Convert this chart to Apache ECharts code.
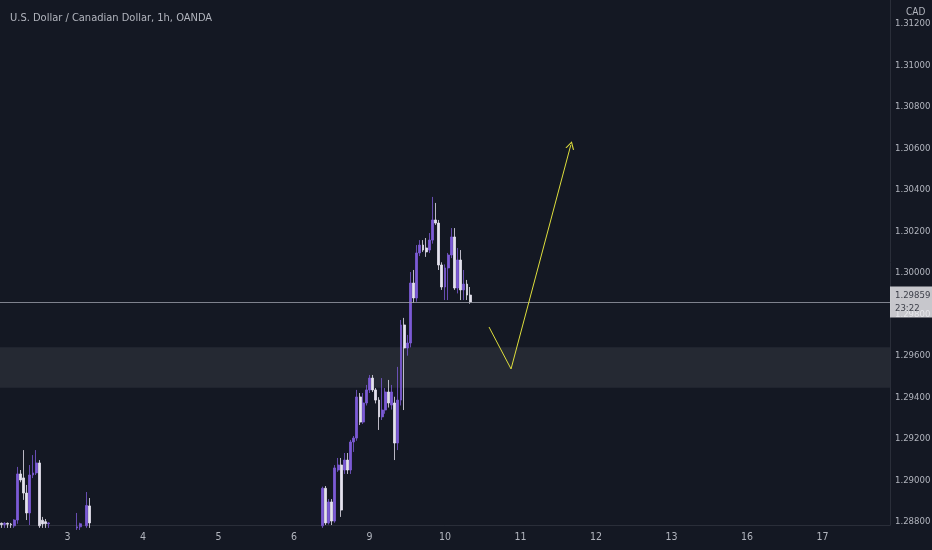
<!DOCTYPE html>
<html>
<head>
<meta charset="utf-8">
<script src="https://cdn.jsdelivr.net/npm/echarts@6/dist/echarts.min.js"></script>
<style>
html,body{margin:0;padding:0;background:#141823;}
#chart{width:932px;height:550px;}
</style>
</head>
<body>
<div id="chart"></div>
<script>
// ---- data ----
const titleText = 'U.S. Dollar / Canadian Dollar, 1h, OANDA';
const currencyLabel = 'CAD';
const dayNumbers = [2, 3, 4, 5, 6, 9, 10, 11, 12, 13, 16, 17];
const firstDayStartHour = 3;
const slotCount = 283;
const yTicks = [1.288, 1.290, 1.292, 1.294, 1.296, 1.298, 1.300, 1.302, 1.304, 1.306, 1.308, 1.310, 1.312];
const yMin = 1.28784;
const yMax = 1.31314;
const lastPrice = 1.29859;
const countdown = '23:22';
const zoneLow = 1.29445;
const zoneHigh = 1.29640;
// arrow path: [slot index, price]
const arrowPath = [[155, 1.29738], [162, 1.29536], [181, 1.30615]];
// candles: [slot, open, close, low, high]
const candles = [
  [0, 1.28792, 1.28786, 1.28770, 1.28796],
  [1, 1.28786, 1.28792, 1.28770, 1.28798],
  [2, 1.28792, 1.28788, 1.28770, 1.28796],
  [3, 1.28788, 1.28785, 1.28770, 1.28794],
  [4, 1.28780, 1.28808, 1.28770, 1.28812],
  [5, 1.28808, 1.29030, 1.28790, 1.29064],
  [6, 1.29030, 1.29001, 1.28990, 1.29049],
  [7, 1.29011, 1.28938, 1.28905, 1.29145],
  [8, 1.28938, 1.28842, 1.28808, 1.28977],
  [9, 1.28842, 1.29025, 1.28784, 1.29073],
  [10, 1.29025, 1.29035, 1.29010, 1.29121],
  [11, 1.29035, 1.29083, 1.29025, 1.29145],
  [12, 1.29083, 1.28780, 1.28770, 1.29097],
  [13, 1.28807, 1.28789, 1.28770, 1.28823],
  [14, 1.28800, 1.28790, 1.28770, 1.28813],
  [15, 1.28790, 1.28794, 1.28770, 1.28797],
  [24, 1.28770, 1.28775, 1.28760, 1.28842],
  [25, 1.28775, 1.28790, 1.28760, 1.28795],
  [27, 1.28780, 1.28878, 1.28770, 1.28943],
  [28, 1.28876, 1.28794, 1.28770, 1.28914],
  [102, 1.28780, 1.28961, 1.28770, 1.28969],
  [103, 1.28961, 1.28794, 1.28784, 1.28972],
  [104, 1.28794, 1.28895, 1.28786, 1.28909],
  [105, 1.28895, 1.28803, 1.28784, 1.28909],
  [106, 1.28803, 1.29059, 1.28795, 1.29073],
  [107, 1.29049, 1.29073, 1.29040, 1.29107],
  [108, 1.29073, 1.28856, 1.28823, 1.29107],
  [109, 1.29049, 1.29097, 1.29030, 1.29131],
  [110, 1.29097, 1.29049, 1.29030, 1.29131],
  [111, 1.29049, 1.29184, 1.29030, 1.29194],
  [112, 1.29184, 1.29203, 1.29136, 1.29213],
  [113, 1.29203, 1.29401, 1.29190, 1.29435],
  [114, 1.29401, 1.29280, 1.29266, 1.29420],
  [115, 1.29280, 1.29372, 1.29271, 1.29420],
  [116, 1.29372, 1.29435, 1.29360, 1.29459],
  [117, 1.29435, 1.29492, 1.29420, 1.29507],
  [118, 1.29492, 1.29435, 1.29425, 1.29507],
  [119, 1.29435, 1.29386, 1.29370, 1.29444],
  [120, 1.29386, 1.29305, 1.29242, 1.29400],
  [121, 1.29305, 1.29338, 1.29290, 1.29492],
  [122, 1.29338, 1.29425, 1.29320, 1.29444],
  [123, 1.29425, 1.29372, 1.29350, 1.29483],
  [124, 1.29362, 1.29425, 1.29340, 1.29459],
  [125, 1.29372, 1.29179, 1.29097, 1.29402],
  [126, 1.29179, 1.29386, 1.29145, 1.29546],
  [127, 1.29386, 1.29748, 1.29360, 1.29772],
  [128, 1.29748, 1.29637, 1.29338, 1.29782],
  [129, 1.29637, 1.29661, 1.29600, 1.29700],
  [130, 1.29661, 1.29950, 1.29640, 1.30003],
  [131, 1.29950, 1.29878, 1.29854, 1.30013],
  [132, 1.29878, 1.30095, 1.29860, 1.30133],
  [133, 1.30095, 1.30133, 1.30080, 1.30157],
  [134, 1.30133, 1.30109, 1.30100, 1.30157],
  [135, 1.30119, 1.30100, 1.30076, 1.30167],
  [136, 1.30109, 1.30157, 1.30095, 1.30191],
  [137, 1.30157, 1.30254, 1.30140, 1.30365],
  [138, 1.30254, 1.30239, 1.30230, 1.30336],
  [139, 1.30239, 1.30037, 1.30013, 1.30254],
  [140, 1.30037, 1.29931, 1.29917, 1.30050],
  [141, 1.29931, 1.30023, 1.29868, 1.30040],
  [142, 1.30023, 1.30085, 1.29868, 1.30095],
  [143, 1.30085, 1.30172, 1.30070, 1.30215],
  [144, 1.30172, 1.29926, 1.29917, 1.30215],
  [145, 1.29926, 1.30061, 1.29900, 1.30119],
  [146, 1.30061, 1.29917, 1.29868, 1.30109],
  [147, 1.29917, 1.29945, 1.29868, 1.30013],
  [148, 1.29945, 1.29892, 1.29868, 1.29965],
  [149, 1.29892, 1.29859, 1.29850, 1.29931]
];

// ---- build category slots (one per hour) ----
const categories = [];
const slotHour = [];
(function(){
  let d = 0, h = firstDayStartHour;
  for (let i = 0; i < slotCount; i++) {
    categories.push(dayNumbers[d] + '|' + h);
    slotHour.push(h);
    h++;
    if (h === 24) { h = 0; d++; }
  }
})();

const seriesData = categories.map(() => '-');
candles.forEach(c => { seriesData[c[0]] = [c[1], c[2], c[3], c[4]]; });

const UP = '#7c5bd6';
const DOWN = '#e4e2ee';
const TEXT = '#b2b5be';
const FONT = '"Liberation Sans Narrow", "DejaVu Sans Condensed", "Roboto", sans-serif';
const ARROW = '#dede3c';

const arrowSym = 'path://M0,10 L5,0 L10,10 L8.6,10 L5,2.8 L1.4,10 Z';

const chart = echarts.init(document.getElementById('chart'), null, {renderer: 'canvas'});
chart.setOption({
  backgroundColor: '#141823',
  animation: false,
  title: [
    { text: titleText, left: 5, top: 8, textStyle: { color: TEXT, fontSize: 11, fontWeight: 'normal', fontFamily: FONT } },
    { text: currencyLabel, left: 901, top: 2, textStyle: { color: TEXT, fontSize: 10, fontWeight: 'normal', fontFamily: FONT } }
  ],
  grid: { left: 0, right: 42, top: 0, bottom: 25, containLabel: false, outerBoundsMode: 'none' },
  xAxis: {
    type: 'category',
    data: categories,
    boundaryGap: true,
    axisLine: { show: true, lineStyle: { color: '#2a2e39' } },
    axisTick: { show: false },
    splitLine: { show: false },
    axisLabel: {
      color: TEXT, fontSize: 10.5, fontFamily: FONT, margin: 7,
      interval: (idx) => slotHour[idx] === 0,
      formatter: (v) => v.split('|')[0]
    }
  },
  yAxis: {
    type: 'value',
    position: 'right',
    min: yMin,
    max: yMax,
    scale: true,
    axisLine: { show: true, lineStyle: { color: '#2a2e39' } },
    axisTick: { show: false, customValues: yTicks },
    splitLine: { show: false },
    axisLabel: {
      customValues: yTicks,
      color: TEXT, fontSize: 9.5, fontFamily: FONT, margin: 5,
      formatter: (v) => v.toFixed(5)
    }
  },
  series: [{
    type: 'candlestick',
    data: seriesData,
    barWidth: 2.4,
    clip: true,
    itemStyle: {
      color: UP, color0: DOWN,
      borderColor: UP, borderColor0: DOWN,
      borderWidth: 0.8
    },
    markArea: {
      silent: true,
      itemStyle: { color: 'rgba(255,255,255,0.075)' },
      data: [[{ yAxis: zoneLow }, { yAxis: zoneHigh }]]
    },
    markLine: {
      silent: true,
      animation: false,
      precision: 5,
      symbol: ['none', 'none'],
      data: [
        {
          yAxis: lastPrice,
          lineStyle: { color: '#9a9ea8', width: 1, type: 'solid', opacity: 0.8 },
          label: {
            show: true, position: 'end', distance: 0,
            formatter: lastPrice.toFixed(5) + '\n' + countdown,
            backgroundColor: '#f4f4f6', color: '#131722',
            fontSize: 9.5, fontFamily: FONT, lineHeight: 13,
            padding: [3, 4, 2, 5], align: 'left'
          }
        },
        [
          { coord: arrowPath[0], symbol: 'none', lineStyle: { color: ARROW, width: 1, type: 'solid' }, label: { show: false } },
          { coord: arrowPath[1], symbol: 'none' }
        ],
        [
          { coord: arrowPath[1], symbol: 'none', lineStyle: { color: ARROW, width: 1, type: 'solid' }, label: { show: false } },
          { coord: arrowPath[2], symbol: arrowSym, symbolSize: [9, 8] }
        ]
      ]
    }
  }]
});
</script>
</body>
</html>
